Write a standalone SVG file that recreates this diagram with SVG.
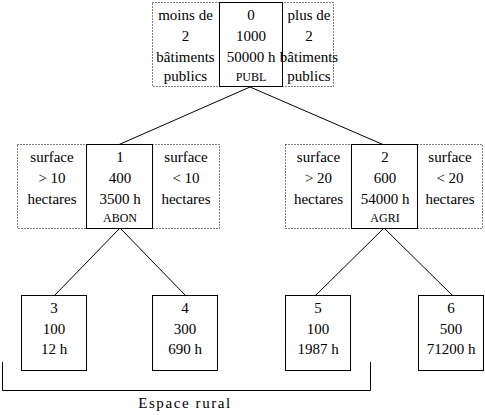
<svg xmlns="http://www.w3.org/2000/svg" width="485" height="415" viewBox="0 0 485 415" font-family="'Liberation Serif', 'Times New Roman', 'DejaVu Serif', serif">
<style>
text{font-family:'Liberation Serif','Times New Roman','DejaVu Serif',serif;font-size:15px;fill:#000;text-anchor:middle}
.sm{font-size:12px}
.node{fill:#fff;stroke:#000;stroke-width:1}
.dot{fill:none;stroke:#000;stroke-width:1;stroke-dasharray:1 2}
.edge{stroke:#000;stroke-width:1;fill:none}
</style>
<rect width="485" height="415" fill="#fff"/>
<g id="connectors">
<line class="edge" x1="250" y1="87" x2="118" y2="145"/>
<line class="edge" x1="250" y1="87" x2="384" y2="145"/>
<line class="edge" x1="120" y1="228" x2="55" y2="295"/>
<line class="edge" x1="120" y1="228" x2="185" y2="295"/>
<line class="edge" x1="384" y1="228" x2="316" y2="295"/>
<line class="edge" x1="384" y1="228" x2="452" y2="295"/>
</g>
<g id="node0">
<rect class="dot" x="152.5" y="2.5" width="181" height="84"/>
<rect class="node" x="219.5" y="2.5" width="63" height="84"/>
<text x="251" y="20">0</text>
<text x="251" y="41">1000</text>
<text x="251" y="62">50000 h</text>
<text x="251" y="81" class="sm">PUBL</text>
<text x="185.5" y="20">moins de</text>
<text x="185.5" y="41">2</text>
<text x="185.5" y="62">bâtiments</text>
<text x="185.5" y="81">publics</text>
<text x="309" y="20">plus de</text>
<text x="309" y="41">2</text>
<text x="309" y="62">bâtiments</text>
<text x="309" y="81">publics</text>
</g>
<g id="node1">
<rect class="dot" x="17.5" y="144.5" width="202" height="84"/>
<rect class="node" x="86.5" y="144.5" width="66" height="84"/>
<text x="120" y="162">1</text>
<text x="120" y="183">400</text>
<text x="120" y="204">3500 h</text>
<text x="120" y="222" class="sm">ABON</text>
<text x="52" y="162">surface</text>
<text x="52" y="183">&gt; 10</text>
<text x="52" y="204">hectares</text>
<text x="186" y="162">surface</text>
<text x="186" y="183">&lt; 10</text>
<text x="186" y="204">hectares</text>
</g>
<g id="node2">
<rect class="dot" x="285.5" y="144.5" width="197" height="84"/>
<rect class="node" x="351.5" y="144.5" width="66" height="84"/>
<text x="385" y="162">2</text>
<text x="385" y="183">600</text>
<text x="385" y="204">54000 h</text>
<text x="385" y="222" class="sm">AGRI</text>
<text x="318.5" y="162">surface</text>
<text x="318.5" y="183">&gt; 20</text>
<text x="318.5" y="204">hectares</text>
<text x="450" y="162">surface</text>
<text x="450" y="183">&lt; 20</text>
<text x="450" y="204">hectares</text>
</g>
<g id="node3">
<rect class="node" x="21.5" y="295.5" width="65" height="75"/>
<text x="54" y="313">3</text>
<text x="54" y="334">100</text>
<text x="54" y="354">12 h</text>
</g>
<g id="node4">
<rect class="node" x="152.5" y="295.5" width="65" height="75"/>
<text x="185" y="313">4</text>
<text x="185" y="334">300</text>
<text x="185" y="354">690 h</text>
</g>
<g id="node5">
<rect class="node" x="285.5" y="295.5" width="65" height="75"/>
<text x="318" y="313">5</text>
<text x="318" y="334">100</text>
<text x="318" y="354">1987 h</text>
</g>
<g id="node6">
<rect class="node" x="418.5" y="295.5" width="65" height="75"/>
<text x="451" y="313">6</text>
<text x="451" y="334">500</text>
<text x="451" y="354">71200 h</text>
</g>
<g id="bracket">
<polyline class="edge" points="2.5,362 2.5,390.5 370.5,390.5 370.5,362"/>
<text x="185" y="408" style="letter-spacing:1.6px">Espace rural</text>
</g>
</svg>
